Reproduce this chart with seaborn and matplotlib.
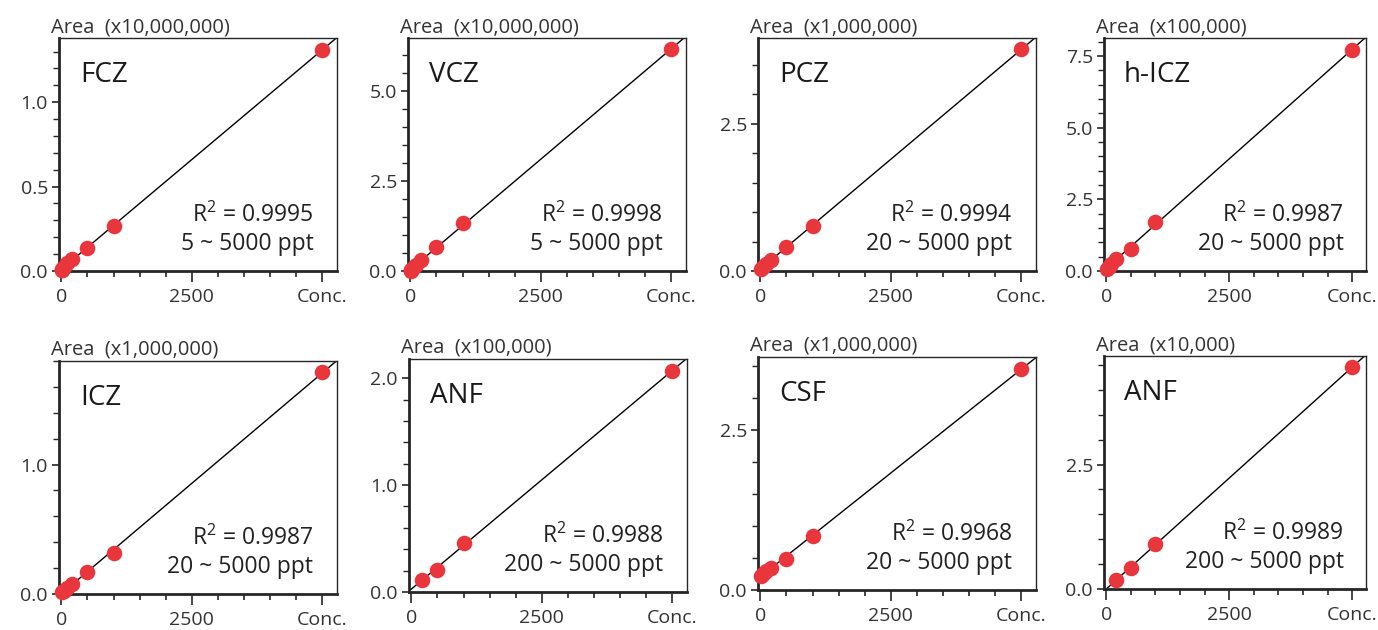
import numpy as np
import pandas as pd
import seaborn as sns
import matplotlib.pyplot as plt
from matplotlib.ticker import MultipleLocator, FixedLocator, FixedFormatter


# calibration data, areas in the units shown on each panel
compounds = ['FCZ', 'VCZ', 'PCZ', 'h-ICZ', 'ICZ', 'ANF', 'CSF', 'ANF']
scales = ['(x10,000,000)', '(x10,000,000)', '(x1,000,000)', '(x100,000)',
          '(x1,000,000)', '(x100,000)', '(x1,000,000)', '(x10,000)']
r2_values = ['0.9995', '0.9998', '0.9994', '0.9987',
             '0.9987', '0.9988', '0.9968', '0.9989']
ranges = ['5 ~ 5000 ppt', '5 ~ 5000 ppt', '20 ~ 5000 ppt', '20 ~ 5000 ppt',
          '20 ~ 5000 ppt', '200 ~ 5000 ppt', '20 ~ 5000 ppt', '200 ~ 5000 ppt']

conc_5 = [5, 10, 20, 50, 100, 200, 500, 1000, 5000]
conc_20 = [20, 50, 100, 200, 500, 1000, 5000]
conc_200 = [200, 500, 1000, 5000]
concentrations = [conc_5, conc_5, conc_20, conc_20,
                  conc_20, conc_200, conc_20, conc_200]

fcz_area = [0.004, 0.008, 0.014, 0.026, 0.045, 0.072, 0.139, 0.265, 1.311]
vcz_area = [0.01, 0.02, 0.04, 0.09, 0.17, 0.31, 0.67, 1.32, 6.15]
pcz_area = [0.04, 0.07, 0.12, 0.19, 0.41, 0.76, 3.77]
hicz_area = [0.08, 0.15, 0.26, 0.43, 0.78, 1.72, 7.72]
icz_area = [0.012, 0.025, 0.045, 0.08, 0.169, 0.314, 1.714]
anf_area = [0.11, 0.21, 0.46, 2.07]
csf_area = [0.22, 0.245, 0.30, 0.35, 0.49, 0.845, 3.455]
anf2_area = [0.19, 0.417, 0.907, 4.456]
areas = [fcz_area, vcz_area, pcz_area, hicz_area,
         icz_area, anf_area, csf_area, anf2_area]

y_max = [1.38, 6.46, 3.96, 8.13, 1.80, 2.18, 3.64, 4.68]
y_major = [0.5, 2.5, 2.5, 2.5, 1.0, 1.0, 2.5, 2.5]
y_minor = [0.1, 0.5, 0.5, 0.5, 0.2, 0.2, 0.5, 0.5]

# panel layout in pixels (left, top, width)
W, H = 1378, 630
lefts = [59, 408, 758, 1104, 59, 409, 758, 1104]
tops = [38, 38, 38, 38, 361, 359, 357, 356]
widths = [278, 278, 278, 262, 278, 278, 278, 262]
PH = 233

RED = '#e8363c'
GREY = '#333333'


def draw_panel(fig, i):
    ax = fig.add_axes([lefts[i] / W, 1 - (tops[i] + PH) / H,
                       widths[i] / W, PH / H])
    ax.set_xlim(-45, 5280)
    ax.set_ylim(0, y_max[i])

    df = pd.DataFrame({'conc': concentrations[i], 'area': areas[i]})
    sns.regplot(data=df, x='conc', y='area', ax=ax, ci=None, truncate=False,
                scatter_kws={'s': 125, 'color': RED, 'linewidths': 0,
                             'alpha': 1, 'zorder': 3, 'clip_on': False},
                line_kws={'color': 'black', 'lw': 1.0, 'zorder': 2})
    ax.set_xlabel('')
    ax.set_ylabel('')

    ax.xaxis.set_major_locator(FixedLocator([0, 2500, 5000]))
    ax.xaxis.set_major_formatter(FixedFormatter(['0', '2500', 'Conc.']))
    ax.xaxis.set_minor_locator(MultipleLocator(500))
    ax.yaxis.set_major_locator(MultipleLocator(y_major[i]))
    ax.yaxis.set_minor_locator(MultipleLocator(y_minor[i]))
    ax.yaxis.set_major_formatter(plt.FormatStrFormatter('%.1f'))

    ax.tick_params(axis='x', which='major', length=8, width=1.2,
                   labelsize=14, labelcolor=GREY, pad=4)
    ax.tick_params(axis='x', which='minor', length=4, width=1.2)
    ax.tick_params(axis='y', which='major', length=5, width=1.2,
                   labelsize=14, labelcolor=GREY, pad=3)
    ax.tick_params(axis='y', which='minor', length=4, width=1.0)

    for side in ['left', 'bottom']:
        ax.spines[side].set_linewidth(2.0)
    for side in ['top', 'right']:
        ax.spines[side].set_visible(True)
        ax.spines[side].set_linewidth(1.0)

    ax.text(0.075, 0.81, compounds[i], transform=ax.transAxes, fontsize=20,
            color='#1a1a1a', va='baseline', ha='left')
    ax.text(0.915, 0.21, 'R$^2$ = ' + r2_values[i], transform=ax.transAxes,
            fontsize=16.5, color='#222222', ha='right', va='baseline')
    ax.text(0.915, 0.09, ranges[i], transform=ax.transAxes,
            fontsize=16.5, color='#222222', ha='right', va='baseline')
    ax.annotate('Area  ' + scales[i], xy=(0, 1), xycoords='axes fraction',
                xytext=(-8, 6), textcoords='offset pixels', fontsize=14.5,
                color=GREY, ha='left', va='baseline')


def main():
    sns.set_style('ticks')
    plt.rcParams['font.family'] = ['Open Sans', 'DejaVu Sans']
    plt.rcParams['mathtext.fontset'] = 'custom'
    plt.rcParams['mathtext.rm'] = 'Open Sans'
    plt.rcParams['mathtext.it'] = 'Open Sans'
    plt.rcParams['mathtext.default'] = 'regular'

    fig = plt.figure(figsize=(W / 100, H / 100), dpi=100)
    for i in range(len(compounds)):
        draw_panel(fig, i)

    fig.savefig('out.png', dpi=100)


if __name__ == '__main__':
    main()
